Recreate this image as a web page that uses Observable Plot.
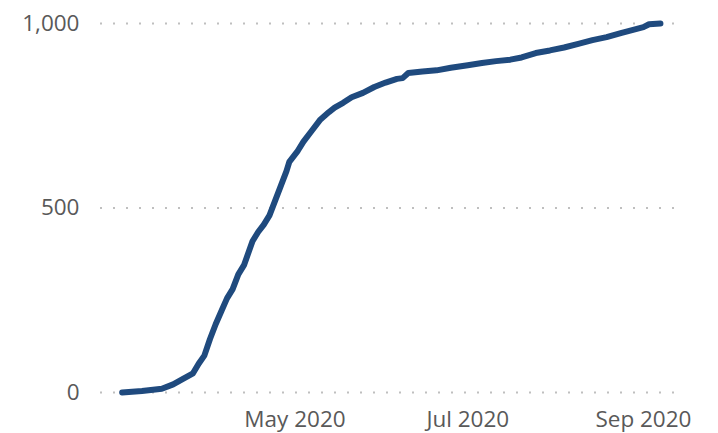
<!DOCTYPE html>
<html>
<head>
<meta charset="utf-8">
<script src="https://cdn.jsdelivr.net/npm/d3@7"></script>
<script src="https://cdn.jsdelivr.net/npm/@observablehq/plot@0.6"></script>
<style>
  html, body { margin: 0; padding: 0; background: #fff; }
  #chart svg { display: block; }
</style>
</head>
<body>
<div id="chart"></div>
<script>
// Cumulative values
const dates = [
  "2020-03-01","2020-03-08","2020-03-15","2020-03-19","2020-03-22","2020-03-26",
  "2020-03-28","2020-03-30","2020-04-01","2020-04-03","2020-04-05","2020-04-07",
  "2020-04-09","2020-04-11","2020-04-13","2020-04-16","2020-04-18","2020-04-20",
  "2020-04-22","2020-04-24","2020-04-26","2020-04-28","2020-04-29","2020-05-02",
  "2020-05-04","2020-05-07","2020-05-10","2020-05-13","2020-05-15","2020-05-18",
  "2020-05-21","2020-05-25","2020-05-29","2020-06-02","2020-06-06","2020-06-08",
  "2020-06-10","2020-06-15","2020-06-20","2020-06-25","2020-07-01","2020-07-06",
  "2020-07-11","2020-07-16","2020-07-20","2020-07-25","2020-07-30","2020-08-04",
  "2020-08-09","2020-08-14","2020-08-19","2020-08-24","2020-08-29","2020-09-01",
  "2020-09-03","2020-09-07"
];
const values = [
  0, 4, 10, 22, 35, 52,
  78, 100, 145, 185, 220, 255,
  280, 320, 345, 410, 435, 455,
  480, 520, 560, 600, 625, 655,
  680, 710, 740, 760, 772, 785,
  800, 812, 828, 840, 850, 852,
  866, 870, 873, 880, 887, 893,
  898, 902, 908, 920, 927, 935,
  945, 955, 963, 974, 984, 990,
  998, 1000
];
const yTicks = [0, 500, 1000];
const xTicks = ["2020-05-01", "2020-07-01", "2020-09-01"];

const data = dates.map((d, i) => ({date: new Date(d + "T00:00:00Z"), value: values[i]}));

const chart = Plot.plot({
  width: 718,
  height: 433,
  marginLeft: 100,
  marginRight: 34,
  marginTop: 23,
  marginBottom: 41,
  style: {fontFamily: "'Open Sans', sans-serif", fontSize: "22.5px", color: "#595959", background: "#fff"},
  x: {
    type: "utc",
    domain: [new Date(Date.UTC(2020, 1, 22, 8, 24)), new Date(Date.UTC(2020, 8, 15, 12))],
    ticks: xTicks.map(d => new Date(d + "T00:00:00Z")),
    tickFormat: d3.utcFormat("%b %Y"),
    tickSize: 0,
    tickPadding: 19,
    label: null
  },
  y: {
    domain: [0, 1000],
    ticks: yTicks,
    tickFormat: d3.format(","),
    tickSize: 0,
    tickPadding: 21,
    label: null
  },
  marks: [
    Plot.ruleY(yTicks, {stroke: "#bfbfbf", strokeWidth: 2, strokeDasharray: "2 11"}),
    Plot.line(data, {x: "date", y: "value", stroke: "#1f4a7e", strokeWidth: 6, strokeLinecap: "round", strokeLinejoin: "round"})
  ]
});
document.getElementById("chart").appendChild(chart);
</script>
</body>
</html>
